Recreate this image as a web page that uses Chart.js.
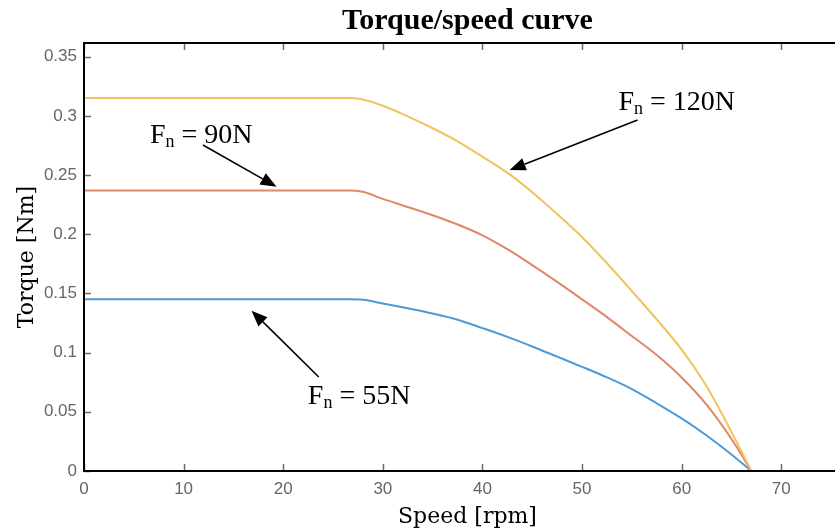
<!DOCTYPE html>
<html>
<head>
<meta charset="utf-8">
<title>Torque/speed curve</title>
<script src="https://cdn.jsdelivr.net/npm/chart.js@4.4.1/dist/chart.umd.min.js"></script>
<style>
  html, body { margin: 0; padding: 0; background: #fff; overflow: hidden; }
  canvas { display: block; }
</style>
</head>
<body>
<canvas id="torqueChart" width="851" height="531"></canvas>
<script>
// ── Data ───────────────────────────────────────────────────────
// speed [rpm] samples shared by all three curves
const speed = [0, 26.5, 28, 30, 32.5, 35, 37.5, 40, 42.5, 45, 47.5, 50, 52.5, 55, 57.5, 60, 62.5, 65, 67];

// torque [Nm] for each normal force
const torque120 = [0.315, 0.315, 0.3138, 0.3085, 0.2995, 0.2895, 0.2785, 0.2655, 0.252, 0.2355, 0.217, 0.1975, 0.1755, 0.152, 0.128, 0.1025, 0.0715, 0.033, 0];
const torque90  = [0.237, 0.237, 0.2358, 0.2298, 0.223, 0.216, 0.2082, 0.1991, 0.1874, 0.1739, 0.1597, 0.145, 0.130, 0.114, 0.098, 0.079, 0.056, 0.027, 0];
const torque55  = [0.145, 0.145, 0.1446, 0.1415, 0.1374, 0.133, 0.1278, 0.1207, 0.1133, 0.1052, 0.0966, 0.088, 0.0791, 0.0692, 0.0572, 0.0444, 0.030, 0.014, 0];

const seriesNames = ['Fn = 120N', 'Fn = 90N', 'Fn = 55N'];

// axis ticks
const xTicks = [0, 10, 20, 30, 40, 50, 60, 70];
const yTicks = [0, 0.05, 0.1, 0.15, 0.2, 0.25, 0.3, 0.35];
const yTickLabels = ['0', '0.05', '0.1', '0.15', '0.2', '0.25', '0.3', '0.35'];


// ── Callouts (positions in data units) ─────────────────────────
const callouts = [
  { label: '120N', text: [53.66, 0.3049], tail: [55.57, 0.2964], tip: [42.73, 0.2542] },
  { label: '90N',  text: [6.62, 0.277],   tail: [11.94, 0.2753], tip: [19.33, 0.2401] },
  { label: '55N',  text: [22.47, 0.0566], tail: [23.57, 0.0794], tip: [16.82, 0.1354] },
];


// ── Helpers ────────────────────────────────────────────────────
function toPoints(ys) {
  return speed.map((s, i) => ({ x: s, y: ys[i] }));
}

function drawArrow(ctx, x0, y0, x1, y1) {
  const ang = Math.atan2(y1 - y0, x1 - x0);
  const len = 16, half = 6.5;
  const bx = x1 - len * Math.cos(ang), by = y1 - len * Math.sin(ang);

  ctx.beginPath();
  ctx.moveTo(x0, y0);
  ctx.lineTo(bx, by);
  ctx.stroke();

  ctx.beginPath();
  ctx.moveTo(x1, y1);
  ctx.lineTo(bx + half * Math.sin(ang), by - half * Math.cos(ang));
  ctx.lineTo(bx - half * Math.sin(ang), by + half * Math.cos(ang));
  ctx.closePath();
  ctx.fill();
}


// ── Frame, ticks, title and callouts ───────────────────────────
const framePlugin = {
  id: 'frame',
  afterDraw(chart) {
    const { ctx, chartArea: a, scales: { x, y } } = chart;
    ctx.save();

    // inward tick marks
    ctx.strokeStyle = '#6b6b6b';
    ctx.lineWidth = 1.5;
    ctx.beginPath();
    xTicks.forEach(v => {
      const px = Math.round(x.getPixelForValue(v)) + 0.5;
      ctx.moveTo(px, a.bottom); ctx.lineTo(px, a.bottom - 7);
      ctx.moveTo(px, a.top);    ctx.lineTo(px, a.top + 7);
    });
    yTicks.forEach(v => {
      const py = Math.round(y.getPixelForValue(v)) + 0.5;
      ctx.moveTo(a.left, py); ctx.lineTo(a.left + 7, py);
    });
    ctx.stroke();

    // axes box
    ctx.strokeStyle = '#000';
    ctx.lineWidth = 2;
    ctx.strokeRect(a.left, a.top, a.right - a.left + 4, a.bottom - a.top);

    // title
    ctx.fillStyle = '#000';
    ctx.font = 'bold 30px "Liberation Serif"';
    ctx.textAlign = 'center';
    ctx.textBaseline = 'alphabetic';
    ctx.fillText('Torque/speed curve', (a.left + a.right) / 2, 29);

    // callouts
    ctx.lineWidth = 1.6;
    ctx.strokeStyle = '#000';
    ctx.textAlign = 'left';
    callouts.forEach(c => {
      const tx = x.getPixelForValue(c.text[0]);
      const ty = y.getPixelForValue(c.text[1]);
      ctx.font = '28px "Liberation Serif"';
      ctx.fillText('F', tx, ty);
      let cx = tx + ctx.measureText('F').width;
      ctx.font = '18px "Liberation Serif"';
      ctx.fillText('n', cx, ty + 4);
      cx += ctx.measureText('n').width;
      ctx.font = '28px "Liberation Serif"';
      ctx.fillText(' = ' + c.label, cx, ty);

      drawArrow(ctx,
        x.getPixelForValue(c.tail[0]), y.getPixelForValue(c.tail[1]),
        x.getPixelForValue(c.tip[0]),  y.getPixelForValue(c.tip[1]));
    });

    ctx.restore();
  }
};


// ── Chart ──────────────────────────────────────────────────────
const tickFont = { family: '"Liberation Sans"', size: 17 };
const axisTitleFont = { family: '"DejaVu Serif"', size: 22 };

new Chart(document.getElementById('torqueChart'), {
  type: 'line',
  data: {
    datasets: [
      { label: seriesNames[0], data: toPoints(torque120), borderColor: 'rgb(240, 196, 92)' },
      { label: seriesNames[1], data: toPoints(torque90),  borderColor: 'rgb(226, 134, 106)' },
      { label: seriesNames[2], data: toPoints(torque55),  borderColor: 'rgb(76, 154, 214)' },
    ].map(ds => Object.assign(ds, {
      borderWidth: 2,
      pointRadius: 0,
      fill: false,
      cubicInterpolationMode: 'monotone',
    }))
  },
  options: {
    responsive: false,
    animation: false,
    devicePixelRatio: 1,
    layout: { padding: { top: 43, left: 0, right: 0, bottom: 0 } },
    plugins: {
      legend: { display: false },
      tooltip: { enabled: false },
    },
    scales: {
      x: {
        type: 'linear',
        min: 0,
        max: 77,
        grid: { display: false, drawTicks: false },
        border: { display: false },
        afterBuildTicks: s => { s.ticks = xTicks.map(v => ({ value: v })); },
        afterFit: s => { s.height = 60; },
        ticks: {
          color: '#666',
          font: tickFont,
          padding: 8,
          maxRotation: 0,
          callback: v => String(v),
        },
        title: {
          display: true,
          text: 'Speed [rpm]',
          color: '#000',
          font: axisTitleFont,
          padding: { top: 0, bottom: 1 },
        },
      },
      y: {
        type: 'linear',
        min: 0,
        max: 0.3615,
        grid: { display: false, drawTicks: false },
        border: { display: false },
        afterBuildTicks: s => { s.ticks = yTicks.map(v => ({ value: v })); },
        afterFit: s => { s.width = 84; },
        ticks: {
          color: '#666',
          font: tickFont,
          padding: 7,
          callback: (v, i) => yTickLabels[i],
        },
        title: {
          display: true,
          text: 'Torque [Nm]',
          color: '#000',
          font: axisTitleFont,
          padding: { top: 14, bottom: 0 },
        },
      },
    },
  },
  plugins: [framePlugin],
});
</script>
</body>
</html>
